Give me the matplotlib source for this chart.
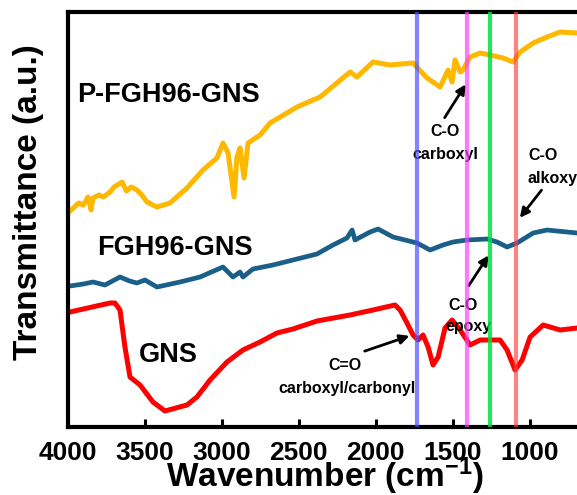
import matplotlib
matplotlib.use("Agg")
import matplotlib.pyplot as plt

plt.rcParams["font.family"] = ["Liberation Sans", "DejaVu Sans"]
plt.rcParams["font.weight"] = "bold"
plt.rcParams["mathtext.fontset"] = "custom"
plt.rcParams["mathtext.rm"] = "Liberation Sans:bold"
plt.rcParams["mathtext.bf"] = "Liberation Sans:bold"
plt.rcParams["mathtext.default"] = "bf"

# ── Data (wavenumber in cm-1, transmittance in arbitrary units) ─────────────
p_fgh_wn = [3987, 3930, 3900, 3870, 3850, 3838, 3800, 3770, 3727, 3700, 3649, 3620,
            3590, 3552, 3520, 3487, 3422, 3337, 3227, 3123, 3032, 2993, 2960, 2921,
            2902, 2882, 2856, 2830, 2752, 2687, 2512, 2362, 2167, 2122, 2018, 1907,
            1758, 1667, 1582, 1530, 1504, 1485, 1452, 1433, 1387, 1322, 1257, 1173,
            1108, 1062, 977, 887, 802, 692, 550, 400]
p_fgh_t = [216, 224, 222, 230, 217, 229, 232, 230, 235, 240, 245, 236,
           240, 237, 232, 225, 220, 224, 239, 257, 269, 284, 274, 230,
           270, 279, 249, 284, 292, 304, 320, 330, 355, 350, 365, 362,
           364, 349, 340, 357, 345, 367, 355, 357, 370, 374, 372, 369,
           365, 375, 384, 390, 395, 394, 394, 392]

fgh_wn = [3987, 3900, 3838, 3760, 3662, 3600, 3552, 3500, 3422, 3272, 3142, 2993,
          2928, 2882, 2863, 2798, 2668, 2538, 2382, 2278, 2187, 2154, 2135, 2037,
          1985, 1888, 1732, 1647, 1563, 1498, 1407, 1277, 1212, 1147, 1082, 977,
          887, 757, 692, 550, 400]
fgh_t = [141, 143, 145, 142, 150, 146, 144, 147, 140, 145, 150, 160,
         150, 155, 150, 158, 162, 167, 173, 182, 189, 197, 187, 195,
         198, 190, 184, 177, 182, 185, 187, 188, 185, 180, 184, 194,
         197, 195, 194, 192, 190]

gns_wn = [3987, 3727, 3695, 3662, 3630, 3597, 3532, 3448, 3370, 3227, 3162, 3077,
          2967, 2863, 2752, 2642, 2538, 2382, 2167, 2018, 1875, 1842, 1797, 1758,
          1725, 1693, 1660, 1628, 1595, 1550, 1504, 1452, 1387, 1322, 1192, 1147,
          1095, 1049, 997, 912, 802, 692, 550, 400]
gns_t = [115, 124, 124, 117, 80, 50, 42, 25, 16, 22, 30, 47,
         65, 77, 85, 94, 98, 106, 112, 117, 122, 117, 104, 92,
         87, 92, 80, 62, 70, 99, 107, 97, 82, 87, 87, 77,
         57, 67, 90, 102, 97, 99, 100, 100]

band_wn = [1733, 1408, 1256, 1091]
band_colors = ["#5050ff", "#ff40ff", "#00e040", "#ff4040"]
band_alpha = [0.7, 0.7, 0.85, 0.65]

xticks = [4000, 3500, 3000, 2500, 2000, 1500, 1000]

# ── Figure ───────────────────────────────────────────────────────────────────
fig = plt.figure(figsize=(5.77, 4.95), dpi=100)
ax = fig.add_axes([68 / 577, 68 / 495, 554 / 577, 415 / 495])

ax.plot(p_fgh_wn, p_fgh_t, color="#ffb800", lw=3.6, solid_joinstyle="round")
ax.plot(fgh_wn, fgh_t, color="#1a5e8a", lw=3.4, solid_joinstyle="round")
ax.plot(gns_wn, gns_t, color="#ff0000", lw=3.6, solid_joinstyle="round")

for wn, c, a in zip(band_wn, band_colors, band_alpha):
    ax.axvline(wn, color=c, alpha=a, lw=3, zorder=5)

ax.set_xlim(4000, 400)
ax.set_ylim(0, 415)
ax.set_xticks(xticks)
ax.set_xticklabels([str(t) for t in xticks], fontsize=19, fontweight="bold")
ax.set_yticks([])
ax.tick_params(axis="x", direction="in", length=6, width=2.2, pad=10)
for s in ax.spines.values():
    s.set_linewidth(3)

# sample labels
lab = dict(fontsize=19.5, fontweight="bold", ha="left", va="center")
ax.text(3942, 332, "P-FGH96-GNS", **lab)
ax.text(3812, 179, "FGH96-GNS", **lab)
ax.text(3538, 72, "GNS", **lab)

# band annotations
ann = dict(fontsize=11.5, fontweight="bold", ha="center", va="center")
arrow = dict(arrowstyle="-|>", color="black", lw=2, mutation_scale=14)

ax.text(1550, 295, "C-O", **ann)
ax.text(1550, 272, "carboxyl", **ann)
ax.annotate("", xy=(1406, 345), xytext=(1562, 307), arrowprops=arrow)

ax.text(912, 272, "C-O", **ann)
ax.text(1016, 249, "alkoxy", fontsize=11.5, fontweight="bold", ha="left", va="center")
ax.annotate("", xy=(1075, 207), xytext=(912, 239), arrowprops=arrow)

ax.text(1432, 122, "C-O", **ann)
ax.text(1400, 100, "epoxy", **ann)
ax.annotate("", xy=(1257, 174), xytext=(1406, 139), arrowprops=arrow)

ax.text(2199, 62, "C=O", **ann)
ax.text(2186, 39, "carboxyl/carbonyl", **ann)
ax.annotate("", xy=(1764, 92), xytext=(2089, 75), arrowprops=arrow)

fig.text(325 / 577, 8 / 495, "Wavenumber (cm$^{-1}$)", fontsize=24,
         fontweight="bold", ha="center", va="baseline")
fig.text(29 / 577, 1 - 202 / 495, "Transmittance (a.u.)", fontsize=24,
         fontweight="bold", ha="center", va="center", rotation=90)

fig.savefig("out.png", dpi=100)
